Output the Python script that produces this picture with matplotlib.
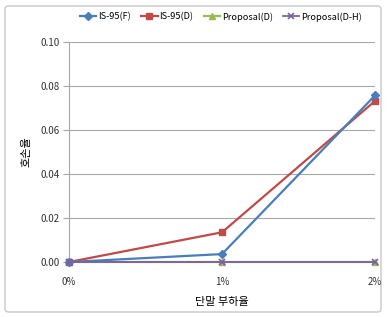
import matplotlib
matplotlib.use("Agg")
import matplotlib.pyplot as plt
from matplotlib.patches import FancyBboxPatch

plt.rcParams['font.family'] = ['Noto Sans CJK KR', 'DejaVu Sans']

categories = ["0%", "1%", "2%"]
series_names = ["IS-95(F)", "IS-95(D)", "Proposal(D)", "Proposal(D-H)"]
is95_f = [0.0, 0.0036, 0.0757]
is95_d = [0.0, 0.0135, 0.0732]
prop_d = [0.0, 0.0, 0.0]
prop_dh = [0.0, 0.0, 0.0]
yticks = [0.00, 0.02, 0.04, 0.06, 0.08, 0.10]

W, H = 387, 317
fig = plt.figure(figsize=(W/100, H/100), dpi=100)
fig.patch.set_facecolor('white')

border = FancyBboxPatch((5/W, 5/H), (W-11)/W, (H-11)/H, boxstyle="round,pad=0,rounding_size=0.01",
                        transform=fig.transFigure, facecolor='none', edgecolor='#c8c8c8', lw=1.0,
                        zorder=-1)
fig.patches.append(border)

ax = fig.add_axes([69/W, 1-262/H, (375-69)/W, (262-42)/H])
ax.patch.set_alpha(0)
x = list(range(len(categories)))
ax.plot(x, is95_f, color='#4a7ebb', lw=1.6, marker='D', ms=4, label=series_names[0], zorder=4)
ax.plot(x, is95_d, color='#be4b48', lw=1.6, marker='s', ms=4.5, label=series_names[1], zorder=3)
ax.plot(x, prop_d, color='#98b954', lw=1.6, marker='^', ms=5, label=series_names[2], zorder=2)
ax.plot(x, prop_dh, color='#7d60a0', lw=1.3, marker='x', ms=5, mew=1.2, label=series_names[3], zorder=5)

ax.set_xlim(0, 2)
ax.set_ylim(0, 0.10)
ax.set_yticks(yticks)
ax.set_yticklabels([f"{v:.2f}" for v in yticks])
ax.set_xticks(x)
ax.set_xticklabels(categories)
ax.grid(axis='y', color='#a8a8a8', lw=0.8)
ax.set_axisbelow(True)
for s in ['top', 'right', 'bottom']:
    ax.spines[s].set_visible(False)
ax.spines['left'].set_color('#a8a8a8')
ax.tick_params(axis='y', length=4, color='#a8a8a8', labelsize=7, pad=3, labelcolor='#333333')
ax.tick_params(axis='x', length=0, labelsize=7, pad=11, labelcolor='#333333')
for line in ax.get_lines():
    line.set_clip_on(False)

ax.set_xlabel("단말 부하율", fontsize=8, labelpad=7)
ax.set_ylabel("호손율", fontsize=8, labelpad=6)

leg = fig.legend(loc='center', bbox_to_anchor=(221/W, 1-17/H), ncol=4, frameon=False,
                 fontsize=6.6, handlelength=1.8, handletextpad=0.2, columnspacing=1.1)

fig.savefig("out.png", dpi=100)
